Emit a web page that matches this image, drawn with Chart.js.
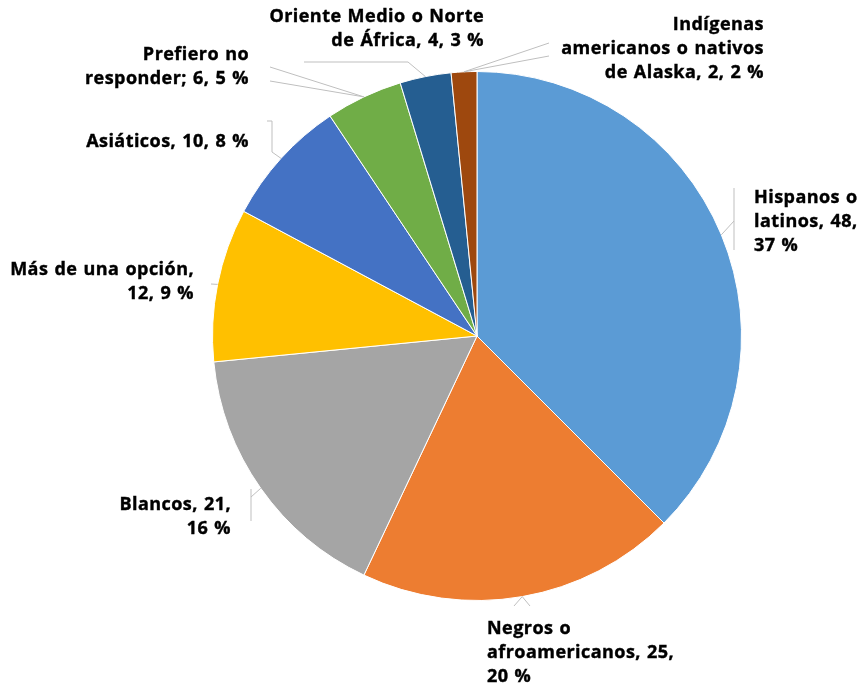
<!DOCTYPE html>
<html>
<head>
<meta charset="utf-8">
<script src="https://cdn.jsdelivr.net/npm/chart.js@4.4.1/dist/chart.umd.min.js"></script>
<style>
  html, body { margin: 0; padding: 0; background: #fff; }
  #wrap { width: 858px; height: 687px; }
</style>
</head>
<body>
<div id="wrap"><canvas id="pieChart"></canvas></div>
<script>
const categories = [
    'Hispanos o latinos',
    'Negros o afroamericanos',
    'Blancos',
    'Más de una opción',
    'Asiáticos',
    'Prefiero no responder;',
    'Oriente Medio o Norte de África',
    'Indígenas americanos o nativos de Alaska'
];
const counts = [48, 25, 21, 12, 10, 6, 4, 2];
const colors = ['#5B9BD5', '#ED7D31', '#A5A5A5', '#FFC000', '#4472C4', '#70AD47', '#255E91', '#9E480E'];

// label placement: words per line, text anchor, alignment, leader line path
const labelLayout = [
    { words: [2, 2, 1], x: 754, y: 198, align: 'left',  lines: [[[734, 221]], [[734, 188], [734, 250]]] },
    { words: [2, 2, 1], x: 487, y: 629, align: 'left',  lines: [[[514, 606]], [[530, 606]]] },
    { words: [2, 1],    x: 231, y: 505, align: 'right', lines: [[[251, 497]], [[251, 489], [251, 521]]] },
    { words: [4, 2],    x: 194, y: 270, align: 'right', lines: [[[211, 284]]] },
    { words: [3],       x: 249, y: 142, align: 'right', lines: [[[272, 152], [272, 121], [267, 121]]] },
    { words: [2, 3],    x: 249, y: 55,  align: 'right', lines: [[[270, 67]], [[270, 81]]] },
    { words: [4, 4],    x: 484, y: 17,  align: 'right', lines: [[[408, 62], [304, 62]]] },
    { words: [1, 3, 4], x: 764, y: 25,  align: 'right', lines: [[[549, 43]], [[549, 56]]] }
];

const total = counts.reduce((a, b) => a + b, 0);

// whole percentages that add up to 100 (largest remainder)
const percents = (() => {
    const raw = counts.map(v => v / total * 100);
    const out = raw.map(Math.floor);
    let left = 100 - out.reduce((a, b) => a + b, 0);
    raw.map((r, i) => [r - Math.floor(r), i])
        .sort((a, b) => b[0] - a[0])
        .slice(0, left)
        .forEach(([, i]) => out[i] += 1);
    return out;
})();

function labelWords(i) {
    const sep = categories[i].endsWith(';') ? ' ' : ', ';
    const text = categories[i] + sep + counts[i] + ', ' + percents[i] + '\u00a0%';
    return text.split(' ');
}

const pieLabels = {
    id: 'pieLabels',
    afterDatasetsDraw(chart) {
        const ctx = chart.ctx;
        const meta = chart.getDatasetMeta(0);
        ctx.save();
        meta.data.forEach((arc, i) => {
            const p = arc.getProps(['x', 'y', 'startAngle', 'endAngle', 'outerRadius'], true);
            const mid = (p.startAngle + p.endAngle) / 2;
            const ax = p.x + Math.cos(mid) * p.outerRadius;
            const ay = p.y + Math.sin(mid) * p.outerRadius;
            const lay = labelLayout[i];

            ctx.strokeStyle = '#BFBFBF';
            ctx.lineWidth = 1;
            lay.lines.forEach((path, k) => {
                ctx.beginPath();
                // a second multi-point path is the label edge, not a leader from the arc
                if (k > 0 && path.length > 1) {
                    ctx.moveTo(path[0][0], path[0][1]);
                    path.slice(1).forEach(pt => ctx.lineTo(pt[0], pt[1]));
                } else {
                    ctx.moveTo(ax, ay);
                    path.forEach(pt => ctx.lineTo(pt[0], pt[1]));
                }
                ctx.stroke();
            });

            const words = labelWords(i);
            ctx.fillStyle = '#000';
            ctx.strokeStyle = '#000';
            ctx.lineWidth = 0.4;
            ctx.font = 'bold 18px "Open Sans"';
            ctx.letterSpacing = '0.45px';
            ctx.wordSpacing = '1px';
            ctx.textAlign = lay.align;
            ctx.textBaseline = 'middle';
            let w = 0;
            lay.words.forEach((n, line) => {
                const txt = words.slice(w, w + n).join(' ');
                w += n;
                ctx.fillText(txt, lay.x, lay.y + line * 24);
                ctx.strokeText(txt, lay.x, lay.y + line * 24);
            });
        });
        ctx.restore();
    }
};

new Chart(document.getElementById('pieChart').getContext('2d'), {
    type: 'pie',
    data: {
        labels: categories,
        datasets: [{
            data: counts,
            backgroundColor: colors,
            borderColor: '#FFFFFF',
            borderWidth: 1
        }]
    },
    options: {
        responsive: true,
        maintainAspectRatio: false,
        animation: false,
        layout: {
            padding: { top: 71, bottom: 86, left: 212, right: 116 }
        },
        plugins: {
            legend: { display: false },
            tooltip: { enabled: false }
        }
    },
    plugins: [pieLabels]
});
</script>
</body>
</html>
